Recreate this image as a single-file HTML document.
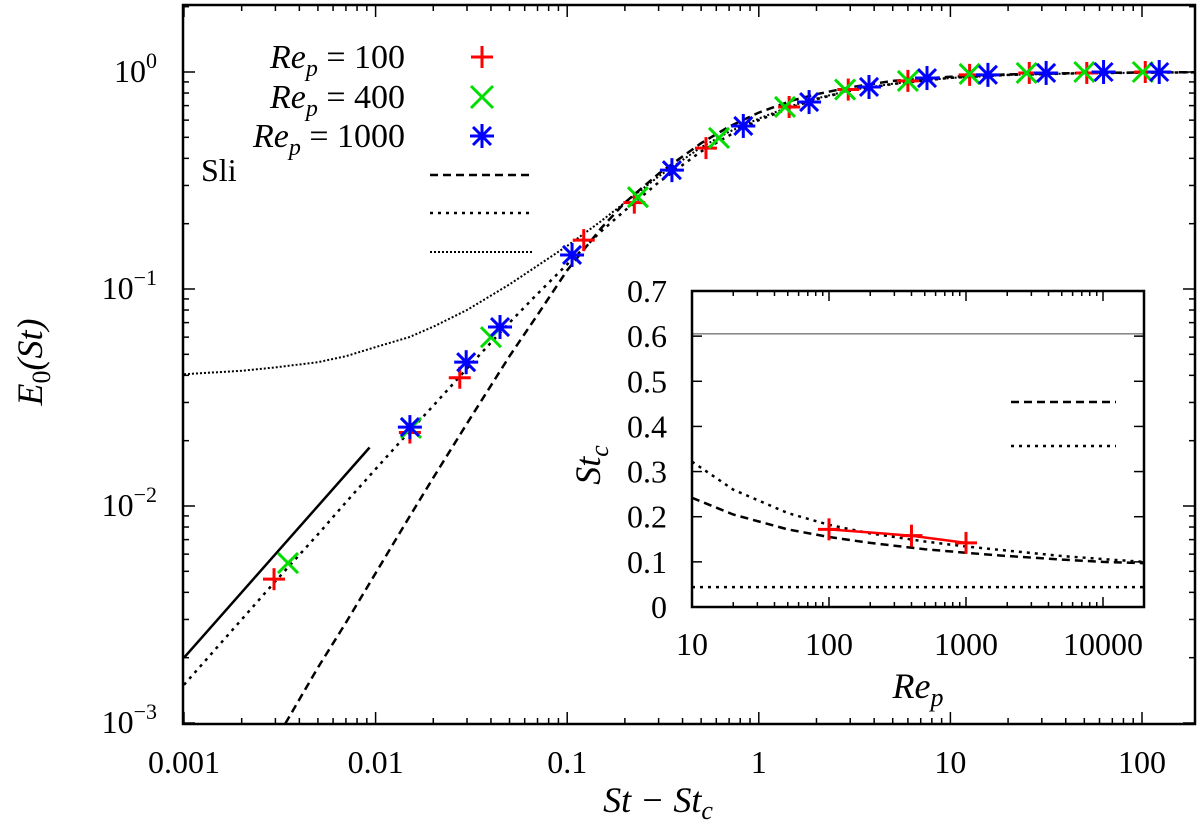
<!DOCTYPE html>
<html><head><meta charset="utf-8"><style>
html,body{margin:0;padding:0;background:#fff;overflow:hidden;width:1200px;height:837px;}
svg{display:block;overflow:hidden;}
svg text{font-family:"Liberation Serif","Times New Roman",Times,"DejaVu Serif",serif;}
</style></head><body>
<svg id="chart" width="1200" height="837" viewBox="0 0 1200 837"></svg>
<script>
// ---- main plot data ----
const re100X = [0.00295,0.0151,0.0275,0.122,0.224,0.53,1.44,2.93,6.0,12.6,25.8,51.5,104];
const re100Y = [0.0046,0.0218,0.039,0.168,0.25,0.446,0.69,0.83,0.91,0.97,0.99,0.99,1.0];
const re400X = [0.00349,0.0153,0.040,0.234,0.62,1.37,2.82,6.0,12.6,25,50,101];
const re400Y = [0.00546,0.0229,0.060,0.265,0.497,0.69,0.83,0.91,0.98,0.99,1.0,1.0];
const re1000X = [0.0151,0.0297,0.0446,0.106,0.352,0.83,1.83,3.76,7.55,15.7,31.6,63,123];
const re1000Y = [0.0231,0.046,0.0668,0.1435,0.353,0.564,0.727,0.853,0.938,0.97,0.99,1.0,1.0];
const curveX = [0.001,0.002,0.003,0.005,0.007,0.01,0.015,0.02,0.03,0.05,0.07,0.1,0.15,0.2,0.3,0.5,0.7,1,1.5,2,3,5,7,10,20,50,100,200];
const dashedY = [0.00017,0.00046,0.00083,0.0018,0.0029,0.0049,0.0089,0.0135,0.024,0.049,0.076,0.122,0.19,0.25,0.34,0.47,0.56,0.65,0.74,0.79,0.85,0.91,0.93,0.95,0.975,0.99,0.995,0.998];
const dottedY = [0.0015,0.003,0.0045,0.0074,0.0104,0.0148,0.022,0.029,0.043,0.07,0.095,0.13,0.184,0.23,0.31,0.43,0.51,0.6,0.69,0.75,0.82,0.88,0.91,0.94,0.97,0.987,0.993,0.997];
const fineY = [0.0405,0.042,0.0435,0.046,0.049,0.054,0.06,0.067,0.08,0.105,0.128,0.158,0.205,0.25,0.33,0.45,0.53,0.61,0.70,0.755,0.824,0.883,0.913,0.938,0.97,0.987,0.993,0.997];
const solidX = [0.001,0.0093];
const solidY = [0.002,0.0186];
const xTicks = [0.001,0.01,0.1,1,10,100];
const xTickLabels = ["0.001","0.01","0.1","1","10","100"];
const yTicks = [-3,-2,-1,0];
// ---- inset data ----
const insRe = [10,20,50,100,200,500,1000,2000,5000,10000,20000];
const insDashed = [0.242,0.205,0.172,0.155,0.142,0.128,0.12,0.113,0.105,0.1,0.097];
const insDotted = [0.322,0.26,0.208,0.182,0.163,0.145,0.134,0.125,0.113,0.106,0.1];
const insPtsX = [100,400,1000];
const insPtsY = [0.172,0.158,0.142];
const insSolid = 0.605;
const insFlat = 0.044;
const insXTicks = [10,100,1000,10000];
const insYTicks = [0,0.1,0.2,0.3,0.4,0.5,0.6,0.7];

const NS="http://www.w3.org/2000/svg";
const svg=document.getElementById('chart');
function el(tag,attrs,parent){const e=document.createElementNS(NS,tag);for(const k in attrs)e.setAttribute(k,attrs[k]);(parent||svg).appendChild(e);return e;}

const L=183,R=1195,T=5,B=724;
const X=v=>184+(Math.log10(v)+3)*191.6;
const Y=v=>72-Math.log10(v)*217;
const clipM=el('clipPath',{id:'cm'});el('rect',{x:L,y:T,width:R-L,height:B-T},clipM);

const gT=el('g',{stroke:'#000','stroke-width':1.5});

for(let d=-3;d<=2;d++)for(let m=1;m<=9;m++){const v=m*Math.pow(10,d);const x=X(v);if(x<L||x>R)continue;const len=m===1?12:6;
 el('line',{x1:x,y1:B,x2:x,y2:B-len},gT);el('line',{x1:x,y1:T,x2:x,y2:T+len},gT);}
for(let d=-3;d<=0;d++)for(let m=1;m<=9;m++){const v=m*Math.pow(10,d);const y=Y(v);if(y<T||y>B)continue;const len=m===1?12:6;
 el('line',{x1:L,y1:y,x2:L+len,y2:y},gT);el('line',{x1:R,y1:y,x2:R-len,y2:y},gT);}
xTicks.forEach((v,i)=>{const t=el('text',{x:X(v),y:773,'font-size':32,'text-anchor':'middle'});t.textContent=xTickLabels[i];
 });
yTicks.forEach(d=>{const t=el('text',{x:157,y:Y(Math.pow(10,d))+10,'font-size':32,'text-anchor':'end'});
 
 t.innerHTML='10<tspan dy="-14" font-size="22">'+(d===0?'0':'\u2212'+(-d))+'</tspan>';});

function poly(xs,ys,fx,fy,style,name,clip){const pts=xs.map((v,i)=>fx(v).toFixed(1)+','+fy(ys[i]).toFixed(1)).join(' ');
 const p=el('polyline',Object.assign({points:pts,fill:'none',stroke:'#000'},style,clip?{'clip-path':'url(#'+clip+')'}:{}));
 return p;}
poly(curveX,fineY,X,Y,{'stroke-width':2,'stroke-dasharray':'2 2'},'fine-dotted-curve','cm');
poly(curveX,dottedY,X,Y,{'stroke-width':2.5,'stroke-dasharray':'3 5'},'dotted-curve','cm');
poly(curveX,dashedY,X,Y,{'stroke-width':2.5,'stroke-dasharray':'8 5'},'dashed-curve','cm');
poly(solidX,solidY,X,Y,{'stroke-width':2.5},'slope-one-line','cm');

function plus(x,y,c,s,name){const g=el('g',{stroke:c,'stroke-width':3});
 el('line',{x1:x-s,y1:y,x2:x+s,y2:y},g);el('line',{x1:x,y1:y-s,x2:x,y2:y+s},g);}
function cross(x,y,c,s,name){const g=el('g',{stroke:c,'stroke-width':3});
 el('line',{x1:x-s,y1:y-s,x2:x+s,y2:y+s},g);el('line',{x1:x-s,y1:y+s,x2:x+s,y2:y-s},g);}
function star(x,y,c,s,name){const g=el('g',{stroke:c,'stroke-width':3});
 el('line',{x1:x-s,y1:y,x2:x+s,y2:y},g);el('line',{x1:x,y1:y-s,x2:x,y2:y+s},g);
 el('line',{x1:x-s*0.75,y1:y-s*0.75,x2:x+s*0.75,y2:y+s*0.75},g);el('line',{x1:x-s*0.75,y1:y+s*0.75,x2:x+s*0.75,y2:y-s*0.75},g);}
re100X.forEach((v,i)=>plus(X(v),Y(re100Y[i]),'#f00',11,'point-re100'));
re400X.forEach((v,i)=>cross(X(v),Y(re400Y[i]),'#0d0',10,'point-re400'));
re1000X.forEach((v,i)=>star(X(v),Y(re1000Y[i]),'#00f',12,'point-re1000'));

const lg=[['100',57],['400',97],['1000',136]];
lg.forEach((l,i)=>{const t=el('text',{x:405,y:l[1]+11,'font-size':34,'text-anchor':'end'});
 
 t.innerHTML='<tspan font-style="italic">Re</tspan><tspan font-style="italic" font-size="24" dy="8">p</tspan><tspan dy="-8"> = '+l[0]+'</tspan>';});
plus(482,57,'#f00',11,'legend-symbol-re100');cross(482,97,'#0d0',11,'legend-symbol-re400');star(482,136,'#00f',12,'legend-symbol-re1000');
const sli=el('text',{x:201,y:181,'font-size':32});sli.textContent='Sli';
el('line',{x1:430,y1:175,x2:532,y2:175,stroke:'#000','stroke-width':2.5,'stroke-dasharray':'8 5',});
el('line',{x1:430,y1:213,x2:532,y2:213,stroke:'#000','stroke-width':2.5,'stroke-dasharray':'3 5',});
el('line',{x1:430,y1:252,x2:532,y2:252,stroke:'#000','stroke-width':2,'stroke-dasharray':'2 2',});

el('rect',{x:L,y:T,width:R-L,height:B-T,fill:'none',stroke:'#000','stroke-width':2.5,});

const xt=el('text',{x:658,y:812,'font-size':36,'text-anchor':'middle','font-style':'italic'});

xt.innerHTML='St \u2212 St<tspan font-size="26" dy="7">c</tspan>';
const yt=el('text',{x:0,y:0,'font-size':36,'text-anchor':'middle','font-style':'italic',transform:'translate(42,362) rotate(-90)'});

yt.innerHTML='E<tspan font-size="26" dy="8" font-style="normal">0</tspan><tspan dy="-8">(St)</tspan>';

// ---- inset ----
const iL=692,iR=1144,iT=291,iB=607;
const IX=v=>692+(Math.log10(v)-1)*137;
const IY=v=>607-v/0.7*(607-291);
el('rect',{x:iL,y:iT,width:iR-iL,height:iB-iT,fill:'#fff',stroke:'none',});
const clipI=el('clipPath',{id:'ci'});el('rect',{x:iL,y:iT,width:iR-iL,height:iB-iT},clipI);
const gI=el('g',{stroke:'#000','stroke-width':1.5});
for(let d=1;d<=4;d++)for(let m=1;m<=9;m++){const v=m*Math.pow(10,d);const x=IX(v);if(x>iR)continue;const len=m===1?10:5;
 el('line',{x1:x,y1:iB,x2:x,y2:iB-len},gI);el('line',{x1:x,y1:iT,x2:x,y2:iT+len},gI);}
insYTicks.forEach(v=>{const y=IY(v);el('line',{x1:iL,y1:y,x2:iL+10,y2:y},gI);el('line',{x1:iR,y1:y,x2:iR-10,y2:y},gI);
 const t=el('text',{x:667,y:y+11,'font-size':32,'text-anchor':'end'});t.textContent=v===0?'0':v.toFixed(1);
 });
insXTicks.forEach(v=>{const t=el('text',{x:IX(v),y:655,'font-size':32,'text-anchor':'middle'});t.textContent=String(v);
 });
poly([10,20000],[insSolid,insSolid],IX,IY,{'stroke-width':1,stroke:'#444'},'inset-solid-line','ci');
poly([10,20000],[insFlat,insFlat],IX,IY,{'stroke-width':2.5,'stroke-dasharray':'3 5'},'inset-flat-dotted','ci');
poly(insRe,insDotted,IX,IY,{'stroke-width':2.5,'stroke-dasharray':'3 5'},'inset-dotted-curve','ci');
poly(insRe,insDashed,IX,IY,{'stroke-width':2.5,'stroke-dasharray':'8 5'},'inset-dashed-curve','ci');
poly(insPtsX,insPtsY,IX,IY,{'stroke-width':2.5,stroke:'#f00'},'inset-red-line','ci');
insPtsX.forEach((v,i)=>plus(IX(v),IY(insPtsY[i]),'#f00',11,'inset-point'));
el('line',{x1:1011,y1:402,x2:1116,y2:402,stroke:'#000','stroke-width':2.5,'stroke-dasharray':'8 5',});
el('line',{x1:1011,y1:446,x2:1116,y2:446,stroke:'#000','stroke-width':2.5,'stroke-dasharray':'3 5',});
el('rect',{x:iL,y:iT,width:iR-iL,height:iB-iT,fill:'none',stroke:'#000','stroke-width':2.5,});
const ixt=el('text',{x:918,y:698,'font-size':36,'text-anchor':'middle','font-style':'italic'});

ixt.innerHTML='Re<tspan font-size="26" dy="8">p</tspan>';
const iyt=el('text',{x:0,y:0,'font-size':36,'text-anchor':'middle','font-style':'italic',transform:'translate(600,465) rotate(-90)'});

iyt.innerHTML='St<tspan font-size="26" dy="8">c</tspan>';
</script>
</body></html>
